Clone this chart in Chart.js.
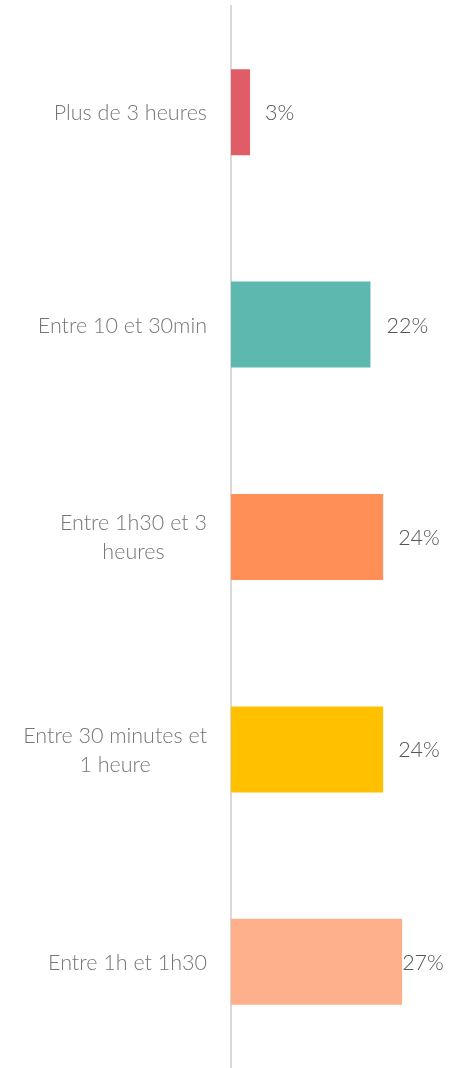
<!DOCTYPE html>
<html>
<head>
<meta charset="utf-8">
<script src="https://cdn.jsdelivr.net/npm/chart.js@4"></script>
<style>
    html, body { margin: 0; padding: 0; background: #fff; }
    #wrap { width: 463px; height: 1068px; }
</style>
</head>
<body>
<div id="wrap"><canvas id="dureeChart" width="463" height="1068"></canvas></div>
<script>
// Temps passé : catégories et pourcentages
const categories = [
    'Plus de 3 heures',
    'Entre 10 et 30min',
    ['Entre 1h30 et 3', 'heures'],
    ['Entre 30 minutes et', '1 heure'],
    'Entre 1h et 1h30'
];
const values = [3, 22, 24, 24, 27];
const barColors = ['#E05C67', '#5DB9B0', '#FF8F57', '#FFC000', '#FDB08A'];
// décalage de l'étiquette de valeur après la barre
const valueLabelGap = [15, 16, 15, 15, 0];

const FONT = 'Lato, "Open Sans", sans-serif';

// Étiquettes de catégories : chaque bloc aligné à droite, lignes centrées entre elles
const categoryLabels = {
    id: 'categoryLabels',
    afterDraw(chart) {
        const ctx = chart.ctx;
        const y = chart.scales.y;
        const right = chart.chartArea.left - 24;
        const lineHeight = 29;
        ctx.save();
        ctx.font = '300 21.5px ' + FONT;
        ctx.fillStyle = '#767676';
        ctx.textAlign = 'center';
        ctx.textBaseline = 'middle';
        categories.forEach((label, i) => {
            const lines = Array.isArray(label) ? label : [label];
            const widest = Math.max(...lines.map(l => ctx.measureText(l).width));
            const cx = right - widest / 2;
            const cy = y.getPixelForValue(i) + 1;
            const top = cy - (lines.length - 1) * lineHeight / 2;
            lines.forEach((line, j) => ctx.fillText(line, cx, top + j * lineHeight));
        });
        ctx.restore();
    }
};

// Pourcentages à droite des barres
const valueLabels = {
    id: 'valueLabels',
    afterDatasetsDraw(chart) {
        const ctx = chart.ctx;
        const meta = chart.getDatasetMeta(0);
        ctx.save();
        ctx.font = '300 21.5px ' + FONT;
        ctx.fillStyle = '#555555';
        ctx.textAlign = 'left';
        ctx.textBaseline = 'middle';
        meta.data.forEach((bar, i) => {
            ctx.fillText(values[i] + '%', bar.x + valueLabelGap[i], bar.y + 1);
        });
        ctx.restore();
    }
};

new Chart(document.getElementById('dureeChart'), {
    type: 'bar',
    data: {
        labels: categories,
        datasets: [{
            data: values,
            backgroundColor: barColors,
            borderWidth: 0,
            categoryPercentage: 1,
            barPercentage: 0.405
        }]
    },
    options: {
        indexAxis: 'y',
        responsive: false,
        animation: false,
        layout: { padding: { top: 6, right: 0, bottom: 0, left: 0 } },
        plugins: {
            legend: { display: false },
            tooltip: { enabled: false }
        },
        scales: {
            x: {
                display: false,
                min: 0,
                max: 36.6
            },
            y: {
                grid: { display: false },
                border: { display: true, color: '#D9D9D9', width: 2 },
                ticks: { display: false },
                afterFit(scale) {
                    scale.width = 231;
                }
            }
        }
    },
    plugins: [categoryLabels, valueLabels]
});
</script>
</body>
</html>
